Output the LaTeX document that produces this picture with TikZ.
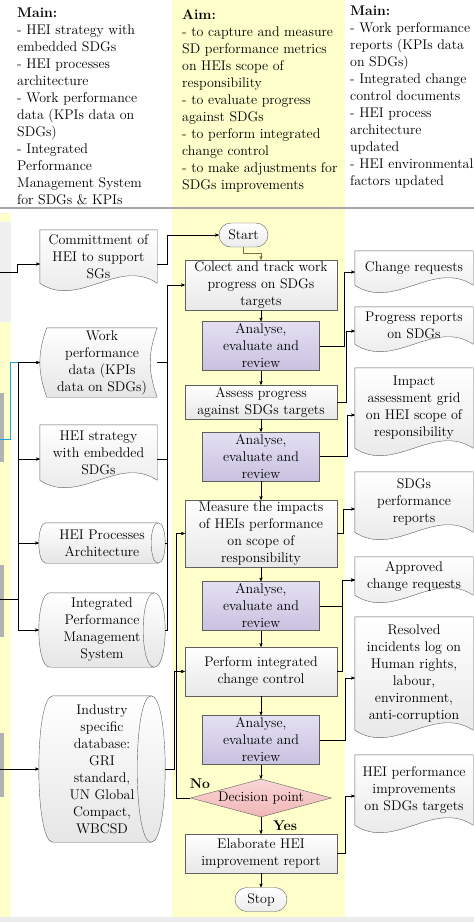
\documentclass[tikz,border=0pt]{standalone}
\usepackage{tikz}
\usetikzlibrary{arrows, positioning, shapes.geometric, calc, backgrounds}

\definecolor{bandyellow}{RGB}{255,255,204}
\definecolor{lineblue}{RGB}{30,160,220}
\definecolor{framegray}{RGB}{95,95,95}
\definecolor{lavtop}{RGB}{228,224,242}
\definecolor{lavbot}{RGB}{200,193,224}
\definecolor{pinktop}{RGB}{250,214,214}
\definecolor{pinkbot}{RGB}{240,182,182}
\definecolor{startline}{RGB}{130,115,50}

\pgfdeclarelayer{docs}
\pgfsetlayers{background,docs,main}

% document outline with wavy bottom, drawn under the node text
\newcommand{\docoutline}[2][26]{%
  \begin{pgfonlayer}{docs}
    \draw[docline] (#2.north west) -- (#2.north east) -- (#2.south east)
      .. controls ($(#2.south east)!0.333!(#2.south west)+(0,-#1)$)
      and ($(#2.south east)!0.667!(#2.south west)+(0,#1)$) .. (#2.south west) -- cycle;
  \end{pgfonlayer}}

% lying cylinder (stored data), #1 = radius of the ends
\newcommand{\storeoutline}[2][8]{%
  \begin{pgfonlayer}{docs}
    \draw[docline] ($(#2.north west)+(#1,0)$) -- ($(#2.north east)+(-#1,0)$)
      .. controls ($(#2.north east)+(#1/3,0)$) and ($(#2.south east)+(#1/3,0)$) .. ($(#2.south east)+(-#1,0)$)
      -- ($(#2.south west)+(#1,0)$)
      .. controls ($(#2.south west)+(-#1/3,0)$) and ($(#2.north west)+(-#1/3,0)$) .. cycle;
    \draw[-, draw=framegray] ($(#2.north east)+(-#1,0)$)
      .. controls ($(#2.north east)+(-7*#1/3,0)$) and ($(#2.south east)+(-7*#1/3,0)$) .. ($(#2.south east)+(-#1,0)$);
  \end{pgfonlayer}}

\begin{document}
\begin{tikzpicture}[x=1pt, y=-1pt, ->, >=stealth', semithick]
    \tikzstyle{every node}=[font=\fontsize{14}{17}\selectfont, inner sep=0pt, align=center, text=black]
    \tikzstyle{procbox}=[rectangle, draw=framegray, top color=white, bottom color=gray!18, minimum width=152pt]
    \tikzstyle{anbox}=[rectangle, draw=framegray, top color=lavtop, bottom color=lavbot, minimum width=117pt, minimum height=49pt]
    \tikzstyle{term}=[rectangle, rounded corners=12pt, draw=framegray, top color=white, bottom color=gray!15, minimum height=24pt]
    \tikzstyle{decide}=[diamond, aspect=3.7, draw=framegray, top color=pinktop, bottom color=pinkbot, minimum width=141pt, minimum height=38pt]
    \tikzstyle{doc}=[rectangle, draw=none, minimum width=117pt]
    \tikzstyle{docline}=[-, draw=framegray, top color=white, bottom color=gray!20]
    \tikzstyle{store}=[rectangle, draw=none, minimum width=126pt]
    \tikzstyle{hdr}=[align=left, anchor=north west]

    \useasboundingbox (0,0) rectangle (474,922);
    \clip (0,0) rectangle (474,922);

    % background bands
    \begin{pgfonlayer}{background}
    \fill[bandyellow] (172,0) rectangle (345,922);
    \fill[bandyellow] (0,213) rectangle (11,922);
    \fill[gray!12] (0,222) rectangle (11,322);
    \fill[gray!60] (0,393) rectangle (4,462);
    \fill[gray!60] (0,565) rectangle (4,637);
    \fill[gray!60] (0,733) rectangle (4,797);
    \fill[gray!15] (0,917) rectangle (474,922);
    \end{pgfonlayer}
    \draw[-, gray!70, line width=1.5pt] (0,208) -- (474,208);

    % header texts
    \node[hdr] (hleft) at (17,8) {\textbf{Main:}\\- HEI strategy with\\embedded SDGs\\- HEI processes\\architecture\\- Work performance\\data (KPIs data on\\SDGs)\\- Integrated\\Performance\\Management System\\for SDGs \& KPIs};
    \node[hdr] (haim) at (182,9) {\textbf{Aim:}\\- to capture and measure\\SD performance metrics\\on HEIs scope of\\responsibility\\- to evaluate progress\\against SDGs\\- to perform integrated\\change control\\- to make adjustments for\\SDGs improvements};
    \node[hdr] (hright) at (350,6) {\textbf{Main:}\\- Work performance\\reports (KPIs data\\on SDGs)\\- Integrated change\\control documents\\- HEI process\\architecture\\updated\\- HEI environmental\\factors updated};

    % central flow
    \node[term, minimum width=49pt] (start) at (243.5,235) {Start};
    \node[procbox, minimum height=50pt] (colect) at (261,285) {Colect and track work\\progress on SDGs\\targets};
    \node[anbox] (an1) at (261,346) {Analyse,\\evaluate and\\review};
    \node[procbox, minimum height=34pt] (assess) at (261,402) {Assess progress\\against SDGs targets};
    \node[anbox] (an2) at (261,456.5) {Analyse,\\evaluate and\\review};
    \node[procbox, minimum height=67pt] (measure) at (261,533.5) {Measure the impacts\\of HEIs performance\\on scope of\\responsibility};
    \node[anbox] (an3) at (261,606) {Analyse,\\evaluate and\\review};
    \node[procbox, minimum height=49pt] (perform) at (261,671.5) {Perform integrated\\change control};
    \node[anbox] (an4) at (261,740) {Analyse,\\evaluate and\\review};
    \node[decide] (dec) at (261,798) {Decision point};
    \node[procbox, minimum height=39pt] (elab) at (261,853.5) {Elaborate HEI\\improvement report};
    \node[term, minimum width=52pt] (stop) at (261,899.5) {Stop};

    % inputs
    \node[doc, minimum height=53pt] (commit) at (98.5,256.5) {Committment of\\HEI to support\\SGs};
    \node[doc, minimum height=69pt, minimum width=110pt] (wpd) at (102,362.5) {Work\\performance\\data (KPIs\\data on SDGs)};
    \node[doc, minimum height=55pt] (strat) at (98.5,452.5) {HEI strategy\\with embedded\\SDGs};
    \node[store, minimum height=40pt] (procs) at (102,543) {HEI Processes\\Architecture};
    \node[store, minimum height=74pt] (ipms) at (102,630) {Integrated\\Performance\\Management\\System};
    \node[store, minimum height=146pt] (indus) at (102,769) {Industry\\specific\\database:\\GRI\\standard,\\UN Global\\Compact,\\WBCSD};

    % outputs
    \node[doc, minimum width=118pt, minimum height=34pt] (chreq) at (414,268) {Change requests};
    \node[doc, minimum width=118pt, minimum height=37pt] (progrep) at (414,325.5) {Progress reports\\on SDGs};
    \node[doc, minimum width=118pt, minimum height=80pt] (impact) at (414,408) {Impact\\assessment grid\\on HEI scope of\\responsibility};
    \node[doc, minimum width=118pt, minimum height=60pt] (sdgperf) at (414,502) {SDGs\\performance\\reports};
    \node[doc, minimum width=118pt, minimum height=38pt] (approved) at (414,576) {Approved\\change requests};
    \node[doc, minimum width=118pt, minimum height=113pt] (resolved) at (414,673.5) {Resolved\\incidents log on\\Human rights,\\labour,\\environment,\\anti-corruption};
    \node[doc, minimum width=118pt, minimum height=70pt] (hpi) at (414,790) {HEI performance\\improvements\\on SDGs targets};

    \docoutline{commit}
    \docoutline{strat}
    \docoutline{chreq}
    \docoutline{progrep}
    \docoutline{impact}
    \docoutline{sdgperf}
    \docoutline{approved}
    \docoutline{resolved}
    \docoutline{hpi}
    \storeoutline[7]{procs}
    \storeoutline[11]{ipms}
    \storeoutline[14]{indus}
    \begin{pgfonlayer}{docs}
    \draw[docline] (wpd.north west) to[bend right=20] (wpd.south west) -- (wpd.south east) to[bend left=20] (wpd.north east) -- cycle;
    \end{pgfonlayer}

    % main flow
    \draw[startline] (start.south) -- ++(0,6) -| (colect.north);
    \path 
    (colect)   edge[->]   node{} (an1)
    (an1)      edge[->]   node{} (assess)
    (assess)   edge[->]   node{} (an2)
    (an2)      edge[->]   node{} (measure)
    (measure)  edge[->]   node{} (an3)
    (an3)      edge[->]   node{} (perform)
    (perform)  edge[->]   node{} (an4)
    (an4)      edge[->]   node{} (dec)
    (dec)      edge[->]   node{} (elab)
    (elab)     edge[->]   node{} (stop)
            ;
    \node (yes) at (285,826) {\bfseries Yes};
    \node (no) at (200,784) {\bfseries No};
    \draw (dec.west) -- ++(-14,0) |- (measure.west);

    % left side
    \coordinate (lbus) at (167,285);
    \coordinate (lfeed) at (18,599);
    \coordinate (wpdin) at ($(wpd.west)+(-7,0)$);
    \coordinate (in1) at (0,272);
    \coordinate (in2) at (0,439);
    \coordinate (in3) at (0,599);
    \coordinate (in4) at (0,769);
    \draw (in1) -- ++(17,0) |- ($(commit.west)+(0,7.5)$);
    \draw ($(commit.east)+(0,7.5)$) -- ++(10,0) |- (start.west);
    \draw[-, lineblue] (in2) -- ++(10,0) |- (lfeed |- wpd.west);
    \draw[-] (in3) -- (lfeed);
    \draw (lfeed) |- (wpdin);
    \draw (lfeed) |- ($(strat.west)+(0,6.5)$);
    \draw (lfeed) |- (procs.west);
    \draw (lfeed) |- (ipms.west);
    \draw (in4) -- (indus.west);
    \draw[-] (wpd.east) -| (lbus);
    \draw[-] ($(strat.east)+(0,6.5)$) -| (lbus);
    \draw[-] (procs.east) -| (lbus);
    \draw (ipms.east) -| (lbus) -- (colect.west);
    \draw (indus.east) -- ++(9,0) |- (perform.west);

    % right side
    \draw (an1.east) -- ++(24,0) |- ($(chreq.west)+(0,4)$);
    \draw (assess.east) -- ++(9,0) |- ($(progrep.west)+(0,5.5)$);
    \draw (an2.east) -- ++(27,0) |- ($(impact.west)+(0,7)$);
    \draw (measure.east) -- ++(6,0) |- ($(sdgperf.west)+(0,7)$);
    \draw (an3.east) -- ++(22.5,0) |- ($(approved.west)+(0,4)$);
    \draw (perform.east) -- ++(5,0) |- ($(approved.west)+(0,4)$);
    \draw (an4.east) -- ++(25.5,0) |- ($(resolved.west)+(0,4.5)$);
    \draw (elab.east) -- ++(8,0) |- ($(hpi.west)+(0,6)$);

\end{tikzpicture}
\end{document}
